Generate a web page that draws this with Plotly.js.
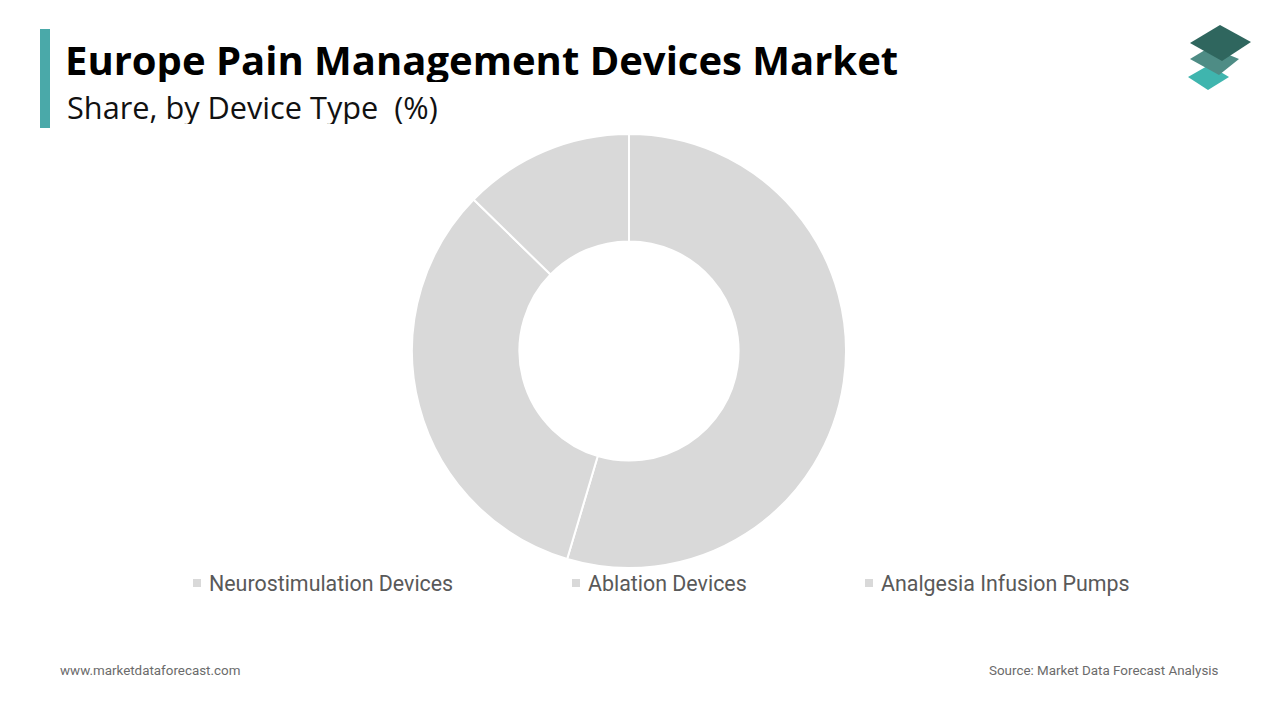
<!DOCTYPE html>
<html>
<head>
<meta charset="utf-8">
<script src="https://cdn.plot.ly/plotly-3.0.1.min.js"></script>
<style>
  html, body { margin: 0; padding: 0; background: #ffffff; }
  #chart { width: 1280px; height: 720px; }
</style>
</head>
<body>
<div id="chart"></div>
<script>
// ---- data ----
const categories = ["Neurostimulation Devices", "Ablation Devices", "Analgesia Infusion Pumps"];
const shares = [54.6, 32.7, 12.7];
const sliceColors = ["#d9d9d9", "#d9d9d9", "#d9d9d9"];
const chartTitle = "Europe Pain Management Devices Market";
const chartSubtitle = "Share, by Device Type&nbsp; (%)";
const footerLeft = "www.marketdataforecast.com";
const footerRight = "Source: Market Data Forecast Analysis";

// ---- layout helpers ----
const W = 1280, H = 720;
const px = (x) => x / W;
const py = (y) => 1 - y / H;
function path(points) {
  return "M" + points.map(p => px(p[0]).toFixed(5) + "," + py(p[1]).toFixed(5)).join(" L") + " Z";
}

const cx = 629, cy = 351, R = 217;
const legendX = [193, 572, 865];
const legendY = 583;

const trace = {
  type: "pie",
  labels: categories,
  values: shares,
  sort: false,
  direction: "clockwise",
  rotation: 0,
  hole: 0.505,
  textinfo: "none",
  hoverinfo: "label+percent",
  marker: { colors: sliceColors, line: { color: "#ffffff", width: 2 } },
  domain: { x: [px(cx - R), px(cx + R)], y: [py(cy + R), py(cy - R)] },
  showlegend: false
};

const annotations = [
  { text: "<b>" + chartTitle + "</b>", x: px(63), y: py(59), xref: "paper", yref: "paper",
    xanchor: "left", yanchor: "middle", height: 46, valign: "middle", showarrow: false,
    font: { family: "Open Sans, sans-serif", size: 40, color: "#000000" } },
  { text: chartSubtitle, x: px(65), y: py(107), xref: "paper", yref: "paper",
    xanchor: "left", yanchor: "middle", height: 34, valign: "middle", showarrow: false,
    font: { family: "Open Sans, sans-serif", size: 30.7, color: "#111111" } },
  { text: footerLeft, x: px(58), y: py(670), xref: "paper", yref: "paper",
    xanchor: "left", yanchor: "middle", showarrow: false,
    font: { family: "Roboto, sans-serif", size: 13.4, color: "#6b6b6b" } },
  { text: footerRight, x: px(1221), y: py(670), xref: "paper", yref: "paper",
    xanchor: "right", yanchor: "middle", showarrow: false,
    font: { family: "Roboto, sans-serif", size: 13.4, color: "#6b6b6b" } }
];

const shapes = [
  // accent bar
  { type: "rect", xref: "paper", yref: "paper", x0: px(40), x1: px(50), y0: py(128), y1: py(29),
    fillcolor: "#4aa9a9", line: { width: 0 } },
  // logo (three stacked diamonds)
  { type: "path", xref: "paper", yref: "paper", path: path([[1188,77],[1209,65],[1229,77],[1208,90]]),
    fillcolor: "#3fb5ae", line: { width: 0 } },
  { type: "path", xref: "paper", yref: "paper", path: path([[1190,59],[1210,47],[1239,59],[1219,75]]),
    fillcolor: "#4e8c85", line: { width: 0 } },
  { type: "path", xref: "paper", yref: "paper", path: path([[1190,43],[1220,25],[1251,42],[1222,61]]),
    fillcolor: "#2f665e", line: { width: 0 } }
];

// legend built from the category list
categories.forEach((name, i) => {
  shapes.push({ type: "rect", xref: "paper", yref: "paper",
    x0: px(legendX[i]), x1: px(legendX[i] + 8), y0: py(legendY + 4), y1: py(legendY - 4),
    fillcolor: sliceColors[i], line: { width: 0 } });
  annotations.push({ text: name, x: px(legendX[i] + 14), y: py(legendY), xref: "paper", yref: "paper",
    xanchor: "left", yanchor: "middle", showarrow: false,
    font: { family: "Roboto, sans-serif", size: 21.4, color: "#595959" } });
});

const layout = {
  width: W, height: H,
  margin: { l: 0, r: 0, t: 0, b: 0 },
  paper_bgcolor: "#ffffff",
  plot_bgcolor: "#ffffff",
  showlegend: false,
  annotations: annotations,
  shapes: shapes
};

Plotly.newPlot("chart", [trace], layout, { displayModeBar: false, staticPlot: true });
</script>
</body>
</html>
